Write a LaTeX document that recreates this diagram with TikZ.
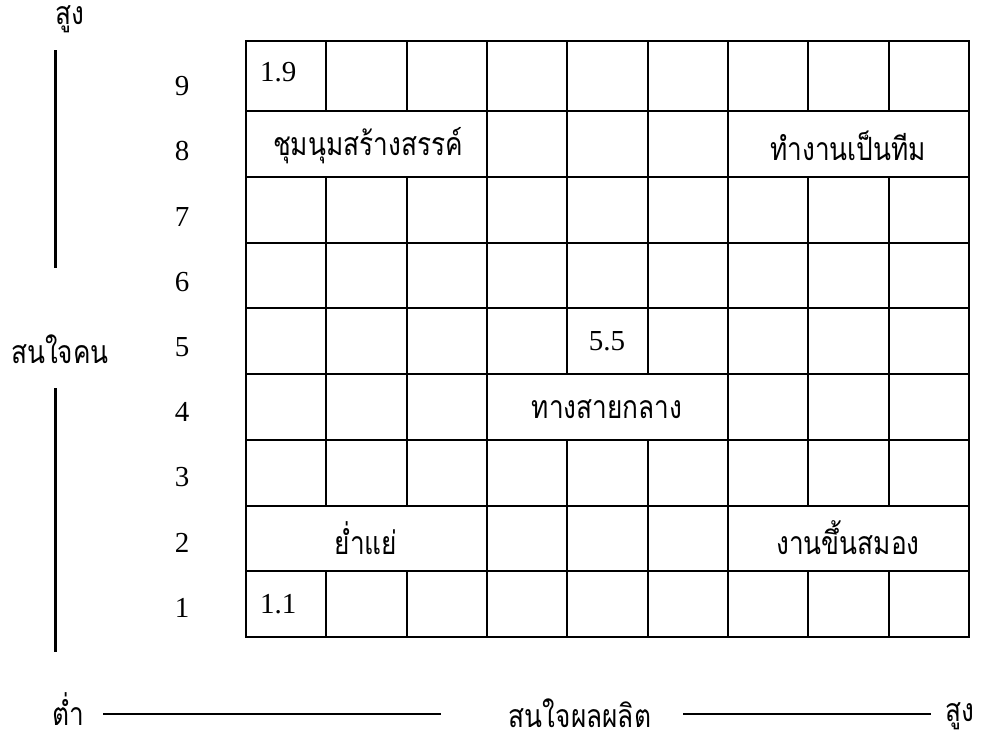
\documentclass[tikz,border=0pt]{standalone}
\usepackage{fontspec}
\setmainfont{Liberation Serif}
\newfontfamily\thai[Script=Thai,FakeStretch=0.82]{Loma}
\begin{document}
\begin{tikzpicture}[x=1pt,y=-1pt,
  grid/.style={line width=2pt, line cap=rect},
  bar/.style={line width=3pt},
  axis/.style={line width=2.2pt},
  th/.style={font=\thai\fontsize{32}{36}\selectfont, inner sep=0pt},
  num/.style={font=\fontsize{29}{30}\selectfont, inner sep=0pt}]
\useasboundingbox (0,0) rectangle (1008,740);
% horizontal lines
\foreach \y in {41,111,176.75,242.5,308.25,374,439.75,505.5,571.25,637}
  \draw[grid] (246,\y) -- (969,\y);
% outer verticals
\draw[grid] (246,41) -- (246,637);
\draw[grid] (969,41) -- (969,637);
% inner verticals per row
\foreach \t/\b/\xs in {
  41/111/{326.3,406.7,487,567.3,647.7,728,808.3,888.7},
  111/176.75/{487,567.3,647.7,728},
  176.75/242.5/{326.3,406.7,487,567.3,647.7,728,808.3,888.7},
  242.5/308.25/{326.3,406.7,487,567.3,647.7,728,808.3,888.7},
  308.25/374/{326.3,406.7,487,567.3,647.7,728,808.3,888.7},
  374/439.75/{326.3,406.7,487,728,808.3,888.7},
  439.75/505.5/{326.3,406.7,487,567.3,647.7,728,808.3,888.7},
  505.5/571.25/{487,567.3,647.7,728},
  571.25/637/{326.3,406.7,487,567.3,647.7,728,808.3,888.7}}
  \foreach \x in \xs \draw[grid] (\x,\t) -- (\x,\b);
% cell texts
\node[num, anchor=west] (c19) at (260,72) {1.9};
\node[th] (c8a) at (368,146) {ชุมนุมสร้างสรรค์};
\node[th] (c8b) at (848,146) {ทำงานเป็นทีม};
\node[num] (c55) at (607,341) {5.5};
\node[th] (c4) at (607,409) {ทางสายกลาง};
\node[th] (c2a) at (366,538) {ย่ำแย่};
\node[th] (c2b) at (848,538) {งานขึ้นสมอง};
\node[num, anchor=west] (c11) at (260,604) {1.1};
% row labels
\foreach \i in {1,...,9}
  \node[num] (r\i) at (182,{86+(9-\i)*65.25}) {\i};
% left axis
\node[th] (yhi) at (70,19) {สูง};
\node[th] (ymid) at (60,349) {สนใจคน};
\coordinate (ya) at (55,50);
\coordinate (yb) at (55,268);
\coordinate (yc) at (55,388);
\coordinate (yd) at (55,652);
\draw[bar] (ya) -- (yb);
\draw[bar] (yc) -- (yd);
% bottom axis
\node[th] (xlo) at (68,709) {ต่ำ};
\node[th] (xmid) at (580,713) {สนใจผลผลิต};
\node[th] (xhi) at (960,716) {สูง};
\coordinate (xa) at (103,714);
\coordinate (xb) at (441,714);
\coordinate (xc) at (683,714);
\coordinate (xd) at (931,714);
\draw[axis] (xa) -- (xb);
\draw[axis] (xc) -- (xd);
\end{tikzpicture}
\end{document}
